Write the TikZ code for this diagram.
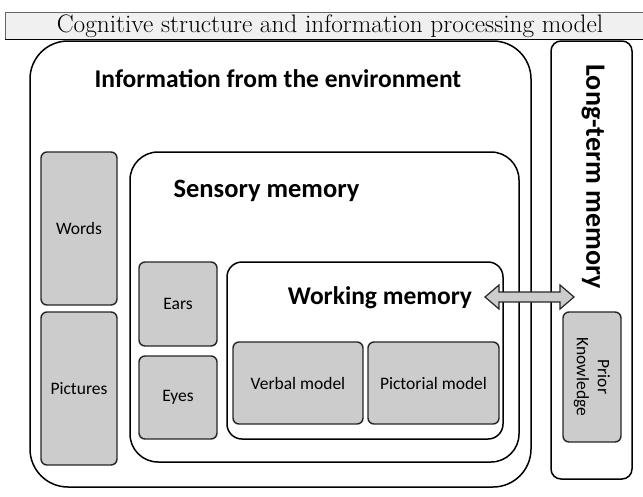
\documentclass[tikz,border=0pt]{standalone}
\usepackage{fontspec}
\newfontfamily\calibri{Carlito}
\usetikzlibrary{calc}

\tikzset{
  membox/.style={draw, line width=1.5pt, rounded corners=#1, fill=white},
  partbox/.style={draw=black!85, line width=1.4pt, rounded corners=6pt, fill=black!20,
    font=\calibri\fontsize{17.5}{21}\selectfont, align=center, inner sep=0pt},
  heading/.style={font=\calibri\bfseries\fontsize{25.5}{30}\selectfont, anchor=base, inner sep=0pt}
}

\begin{document}
\begin{tikzpicture}[x=1pt, y=-1pt]
    \useasboundingbox (0,0) rectangle (643,496);

    % Caption band
    \fill[black!6] (5,12) rectangle (643,39);
    \draw[black!60, line width=0.6pt] (643,12) -- (5,12) -- (5,39);
    \draw[line width=0.8pt] (5,39) -- (643,39);
    \node[anchor=base, inner sep=0pt, font=\fontsize{25.3}{29}\selectfont] (cap) at (330,32)
        {Cognitive structure and information processing model};

    % Outer boxes
    \node[membox=38pt, minimum width=501pt, minimum height=446pt] (env) at (280.5,264) {};
    \node[membox=10pt, minimum width=81pt, minimum height=438pt] (ltm) at (591.5,260) {};
    \node[heading] (envtitle) at (278,87) {Information from the environment};
    \node[heading, anchor=center, rotate=-90, font=\calibri\bfseries\fontsize{28}{32}\selectfont]
        (ltmtitle) at (593,176.5) {Long-term memory};

    % Sensory memory
    \node[membox=28pt, minimum width=389pt, minimum height=310pt] (sens) at (324.5,307) {};
    \node[heading, font=\calibri\bfseries\fontsize{26.5}{30}\selectfont] (senstitle) at (266.5,197) {Sensory memory};

    % Working memory
    \node[membox=15pt, minimum width=276pt, minimum height=177pt] (wm) at (365,350.5) {};
    \node[heading] (wmtitle) at (380,304) {Working memory};

    % Inputs
    \node[partbox, minimum width=76pt, minimum height=153pt] (words) at (79,228.5) {Words};
    \node[partbox, minimum width=76pt, minimum height=153pt] (pictures) at (79,388.5) {Pictures};
    \node[partbox, minimum width=78pt, minimum height=84pt] (ears) at (178,304) {Ears};
    \node[partbox, minimum width=78pt, minimum height=83pt] (eyes) at (178,397.5) {Eyes};
    \node[partbox, minimum width=130pt, minimum height=82pt] (verbal) at (298,383) {Verbal model};
    \node[partbox, minimum width=131pt, minimum height=82pt] (pictorial) at (433.5,383) {Pictorial model};
    \node[partbox, minimum width=130pt, minimum height=58pt, rotate=-90] (prior) at (592,377) {Prior\\Knowledge};

    % Link between working and long-term memory
    \coordinate (linkw) at (485,297);
    \coordinate (linke) at (574,297);
    \draw[draw=black!85, line width=1.2pt, fill=black!20, line join=miter]
        (linkw) -- ++(14,-12) -- ++(0,7) -- ($(linke)+(-14,-5)$) -- ++(0,-7) -- (linke)
        -- ++(-14,12) -- ++(0,-7) -- ($(linkw)+(14,5)$) -- ++(0,7) -- cycle;
\end{tikzpicture}
\end{document}
